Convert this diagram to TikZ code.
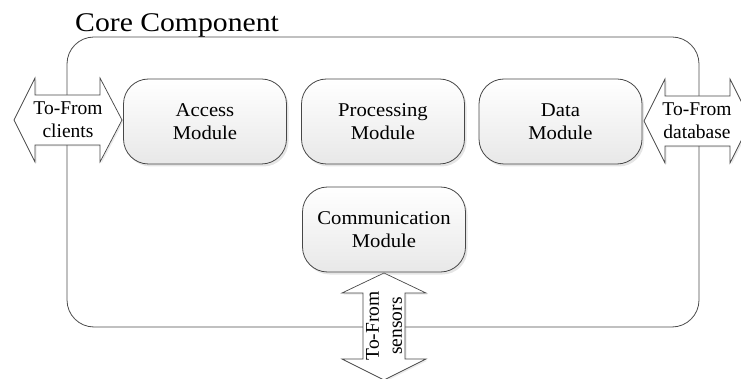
\documentclass[tikz,border=0pt]{standalone}
\usepackage{fontspec}
\setmainfont{Liberation Serif}
\newfontfamily\widerserif{Liberation Serif}[FakeStretch=1.06]
\newfontfamily\titleserif{Liberation Serif}[FakeStretch=1.1]
\usetikzlibrary{shadows}

\tikzset{
  frameline/.style={draw=black!70, line width=0.8pt},
  modulebox/.style={draw=black!72, line width=0.8pt, rounded corners=25pt,
    minimum width=163pt, minimum height=85pt, align=center,
    top color=white, bottom color=black!9,
    drop shadow={shadow xshift=2pt, shadow yshift=-2.5pt, opacity=0.25, fill=black!40},
    font=\widerserif\fontsize{19.5}{23}\selectfont},
  flowarrow/.style={draw=black!72, line width=0.7pt, fill=white,
    drop shadow={shadow xshift=1.5pt, shadow yshift=-1.5pt, opacity=0.2, fill=black!40}},
  arrowtext/.style={align=center, inner sep=0pt, font=\fontsize{19.5}{23}\selectfont},
  titletext/.style={anchor=base west, inner sep=0pt, font=\titleserif\fontsize{27}{30}\selectfont}
}

\begin{document}
\begin{tikzpicture}[x=1pt, y=-1pt]
  \useasboundingbox (0,0) rectangle (741,379);
  \clip (0,0) rectangle (741,379);

  % outer frame of the core component
  \draw[frameline, rounded corners=27pt] (67,37) rectangle (699,327);
  \node[titletext] (title) at (75,32) {Core Component};

  % double arrows crossing the frame
  \path[flowarrow] (14,120) -- (35,78) -- (35,95) -- (100,95) -- (100,78)
    -- (122,120) -- (100,162) -- (100,145) -- (35,145) -- (35,162) -- cycle;
  \path[flowarrow] (644,121) -- (665,79) -- (665,96) -- (730,96) -- (730,79)
    -- (751,121) -- (730,163) -- (730,146) -- (665,146) -- (665,163) -- cycle;
  \path[flowarrow] (384,273) -- (426,293) -- (405,293) -- (405,359) -- (426,359)
    -- (384,380) -- (342,359) -- (363,359) -- (363,293) -- (342,293) -- cycle;

  \node[arrowtext] (clients) at (68,120) {To-From\\clients};
  \node[arrowtext] (database) at (697,121) {To-From\\database};
  \node[arrowtext, rotate=90] (sensors) at (384,326) {To-From\\sensors};

  % modules
  \node[modulebox] (access) at (205,121.5) {Access\\Module};
  \node[modulebox] (processing) at (383,121.5) {Processing\\Module};
  \node[modulebox] (data) at (560.5,121.5) {Data\\Module};
  \node[modulebox] (comm) at (384,229.5) {Communication\\Module};
\end{tikzpicture}
\end{document}
